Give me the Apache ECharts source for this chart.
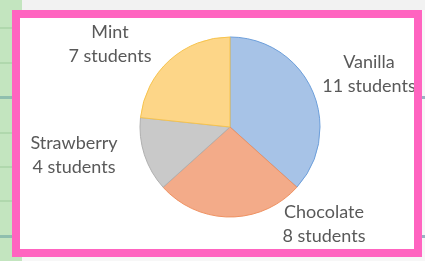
<!DOCTYPE html>
<html>
<head>
<meta charset="utf-8">
<title>Favourite ice cream</title>
<script src="https://cdn.jsdelivr.net/npm/echarts@6/dist/echarts.min.js"></script>
<style>
  html, body { margin: 0; padding: 0; background: #f7f7f7; }
  #main { width: 425px; height: 261px; }
</style>
</head>
<body>
<div id="main"></div>
<script>
// flavours and number of students
var flavours = ['Vanilla', 'Chocolate', 'Strawberry', 'Mint'];
var students = [11, 8, 4, 7];

// slice colours (fill / edge)
var fills = ['#a7c3e7', '#f3ab89', '#c9c9c9', '#fdd688'];
var edges = ['#6d9fdb', '#ef9262', '#b0b0b0', '#f7c44e'];

// where each label sits (centre of the two-line block)
var labelPos = [[369, 74], [324, 224], [74, 155], [110, 44]];

var chart = echarts.init(document.getElementById('main'));

// background: green notebook strip, grey top, white card
var stripLines = [28, 63, 97, 133, 167, 201, 236];
var bg = [
    {type: 'rect', shape: {x: 0, y: 0, width: 425, height: 261}, style: {fill: '#f7f7f7'}, z: -10},
    {type: 'rect', shape: {x: 0, y: 0, width: 425, height: 10}, style: {fill: '#f2f2f2'}, z: -9},
    {type: 'rect', shape: {x: 0, y: 0, width: 22, height: 261}, style: {fill: '#c3e5bf'}, z: -8}
];
stripLines.forEach(function (y) {
    var dark = (y === 97 || y === 236);
    bg.push({type: 'rect', shape: {x: 0, y: y - 1, width: 22, height: dark ? 3 : 2},
        style: {fill: dark ? '#8fbfae' : '#b0d8ad'}, z: -7});
});
bg.push({type: 'rect', shape: {x: 422, y: 96, width: 3, height: 3}, style: {fill: '#9bb3c4'}, z: -7});
bg.push({type: 'rect', shape: {x: 422, y: 235, width: 3, height: 3}, style: {fill: '#9bb3c4'}, z: -7});
bg.push({type: 'rect', shape: {x: 20, y: 18, width: 394, height: 231}, style: {fill: '#ffffff'}, z: -5});

// pink frame drawn on top so it clips the overflowing label
var pink = '#ff64c0';
bg.push({type: 'rect', shape: {x: 12, y: 10, width: 410, height: 8}, style: {fill: pink}, z: 100});
bg.push({type: 'rect', shape: {x: 12, y: 249, width: 410, height: 8}, style: {fill: pink}, z: 100});
bg.push({type: 'rect', shape: {x: 12, y: 10, width: 8, height: 247}, style: {fill: pink}, z: 100});
bg.push({type: 'rect', shape: {x: 414, y: 10, width: 8, height: 247}, style: {fill: pink}, z: 100});

var pieData = flavours.map(function (f, i) {
    return {
        name: f,
        value: students[i],
        itemStyle: {color: fills[i], borderColor: edges[i]}
    };
});

var option = {
    animation: false,
    graphic: bg,
    series: [{
        type: 'pie',
        center: [230, 127],
        radius: 90,
        startAngle: 90,
        clockwise: true,
        data: pieData,
        itemStyle: {borderWidth: 1},
        label: {
            show: true,
            position: 'outside',
            formatter: '{b}\n{c} students',
            fontFamily: 'Lato',
            fontSize: 18,
            lineHeight: 24,
            color: '#595959',
            align: 'center',
            overflow: 'none'
        },
        labelLine: {show: false},
        labelLayout: function (params) {
            var p = labelPos[params.dataIndex];
            return {x: p[0], y: p[1], align: 'center', verticalAlign: 'middle'};
        },
        emphasis: {disabled: true}
    }]
};
chart.setOption(option);
</script>
</body>
</html>
